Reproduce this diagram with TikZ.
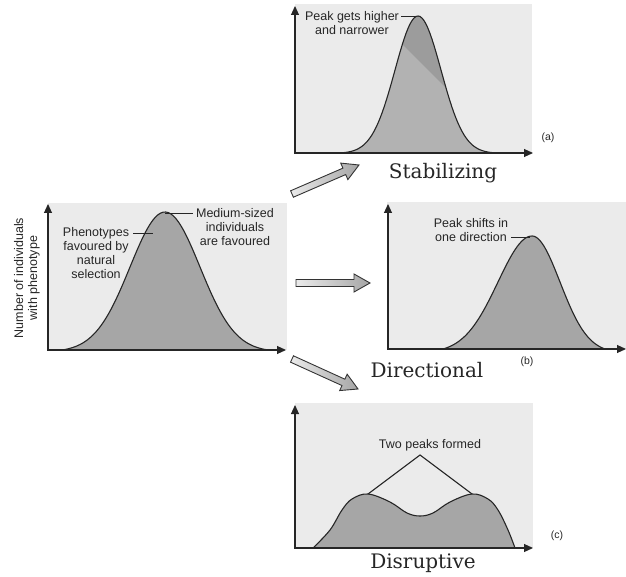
\documentclass[tikz,border=0pt]{standalone}
\usepackage{fontspec}
\newfontfamily\labelfont{Liberation Sans}
\newfontfamily\titlefont{DejaVu Serif}
\usetikzlibrary{arrows.meta}
\usetikzlibrary{calc}
\colorlet{panelgray}{black!8}
\colorlet{curvegray}{black!35}
\colorlet{curvelight}{black!30}
\colorlet{curvedark}{black!39}
\tikzstyle{mypanel}=[fill=panelgray]
\tikzstyle{myaxis}=[line width=1.1pt,black!85,line join=miter,
                    {Triangle[length=9pt,width=8pt]}-{Triangle[length=9pt,width=8pt]}]
\tikzstyle{mycurve}=[line width=1.1pt,draw=black!85]
\tikzstyle{myleader}=[line width=0.8pt,black!85]
\tikzstyle{mylabel}=[inner sep=1pt,align=center,text=black!85,
                     font=\labelfont\fontsize{12.5}{14}\selectfont]
\tikzstyle{mytag}=[inner sep=0pt,text=black!85,font=\labelfont\fontsize{10.5}{12}\selectfont]
\tikzstyle{mytitle}=[inner sep=0pt,text=black!85,font=\titlefont\fontsize{20}{24}\selectfont]
\tikzstyle{mybigarrow}=[draw=black!80,line width=0.9pt,line join=miter,
                        left color=black!8,right color=black!35]
% bell that drops to zero at distance #3 from the peak
\tikzset{declare function={bump(\d,\s,\e)=(exp(-0.5*(\d/\s)*(\d/\s))-exp(-0.5*(\e/\s)*(\e/\s)))
                                         /(1-exp(-0.5*(\e/\s)*(\e/\s)));}}
% hollow block arrow from #1 to #2
\def\blockarrow(#1)(#2){
  \draw[mybigarrow] let \p1=($(#2)-(#1)$), \n1={atan2(\y1,\x1)}, \n2={veclen(\x1,\y1)-16} in
    ($(#1)+(\n1+90:3.5pt)$) -- ($(#1)+(\n1:\n2)+(\n1+90:3.5pt)$)
    -- ($(#1)+(\n1:\n2)+(\n1+90:9pt)$) -- (#2)
    -- ($(#1)+(\n1:\n2)+(\n1-90:9pt)$) -- ($(#1)+(\n1:\n2)+(\n1-90:3.5pt)$)
    -- ($(#1)+(\n1-90:3.5pt)$) -- cycle;
}
\begin{document}
\begin{tikzpicture}[x=1pt,y=-1pt]
  \useasboundingbox (0,0) rectangle (626,577);
  \def\curveL{plot[domain=62:267,samples=80] (\x,{350-138*bump(\x-165,35,103)})}
  \def\curvea{plot[domain=340:498,samples=80] (\x,{153-137*bump(\x-418,23,79)})}
  \def\curveb{plot[domain=443:532,samples=50] (\x,{349-113*bump(\x-532,34,89)})
              -- plot[domain=532:605,samples=50] (\x,{349-113*bump(\x-532,28,73)})}
  \def\curvec{plot[smooth,tension=0.6] coordinates {(313,548) (330,530) (342,510) (352,499)
              (368,494) (390,502) (407,513) (420,516) (433,513) (450,502) (472,494)
              (488,499) (498,510) (508,530) (515,548)}}

  % starting population
  \fill[mypanel] (48,203) rectangle (287,350);
  \filldraw[fill=curvegray,mycurve] \curveL -- cycle;
  \draw[myaxis] (48,204) -- (48,350) -- (286,350);
  \node[mylabel,rotate=90] (ylab) at (27,278) {Number of individuals\\with phenotype};
  \node[mylabel] (pheno) at (96,253) {Phenotypes\\favoured by\\natural\\selection};
  \coordinate (phenopt) at (153,233);
  \draw[myleader] ([xshift=3pt]pheno.east |- phenopt) -- (phenopt);
  \node[mylabel] (medium) at (235,227) {Medium-sized\\individuals\\are favoured};
  \coordinate (lpeak) at (165,213);
  \draw[myleader] (lpeak) -- ([xshift=-2pt]medium.west |- lpeak);

  % (a)
  \fill[mypanel] (295,4) rectangle (532,153);
  \fill[curvelight] \curvea -- cycle;
  \begin{scope}
    \clip \curvea -- cycle;
    \fill[curvedark] (358,0) -- (520,162) -- (520,0) -- cycle;
  \end{scope}
  \draw[mycurve] \curvea;
  \draw[myaxis] (295,6) -- (295,153) -- (533,153);
  \node[mylabel] (higher) at (352,23) {Peak gets higher\\and narrower};
  \coordinate (apeak) at (416,16);
  \draw[myleader] ([xshift=1pt]higher.east |- apeak) -- (apeak);
  \node[mytag] (taga) at (548,138) {(a)};
  \node[mytitle] (stab) at (443,173) {Stabilizing};

  % (b)
  \fill[mypanel] (387,202) rectangle (626,349);
  \filldraw[fill=curvegray,mycurve] \curveb -- cycle;
  \draw[myaxis] (388,204) -- (388,349) -- (626,349);
  \node[mylabel] (shift) at (471,230) {Peak shifts in\\one direction};
  \coordinate (bpeak) at (530,237);
  \draw[myleader] ([xshift=2pt]shift.east |- bpeak) -- (bpeak);
  \node[mytag] (tagb) at (527,362) {(b)};
  \node[mytitle] (dir) at (427,370) {Directional};

  % (c)
  \fill[mypanel] (295,403) rectangle (533,548);
  \filldraw[fill=curvegray,mycurve] \curvec -- cycle;
  \draw[myaxis] (295,405) -- (295,548) -- (533,548);
  \node[mylabel] (twopeaks) at (430,445) {Two peaks formed};
  \coordinate (apex) at (420,455);
  \coordinate (cpeak1) at (368,494);
  \coordinate (cpeak2) at (472,494);
  \draw[myleader,line width=1.1pt] (cpeak1) -- (apex) -- (cpeak2);
  \node[mytag] (tagc) at (557,536) {(c)};
  \node[mytitle] (disr) at (423,563) {Disruptive};

  % ARROWS
  \coordinate (ta) at (292,194); \coordinate (ha) at (359,165);
  \coordinate (tb) at (296,283); \coordinate (hb) at (370,283);
  \coordinate (tc) at (292,359); \coordinate (hc) at (358,389);
  \blockarrow(ta)(ha);
  \blockarrow(tb)(hb);
  \blockarrow(tc)(hc);
\end{tikzpicture}
\end{document}
